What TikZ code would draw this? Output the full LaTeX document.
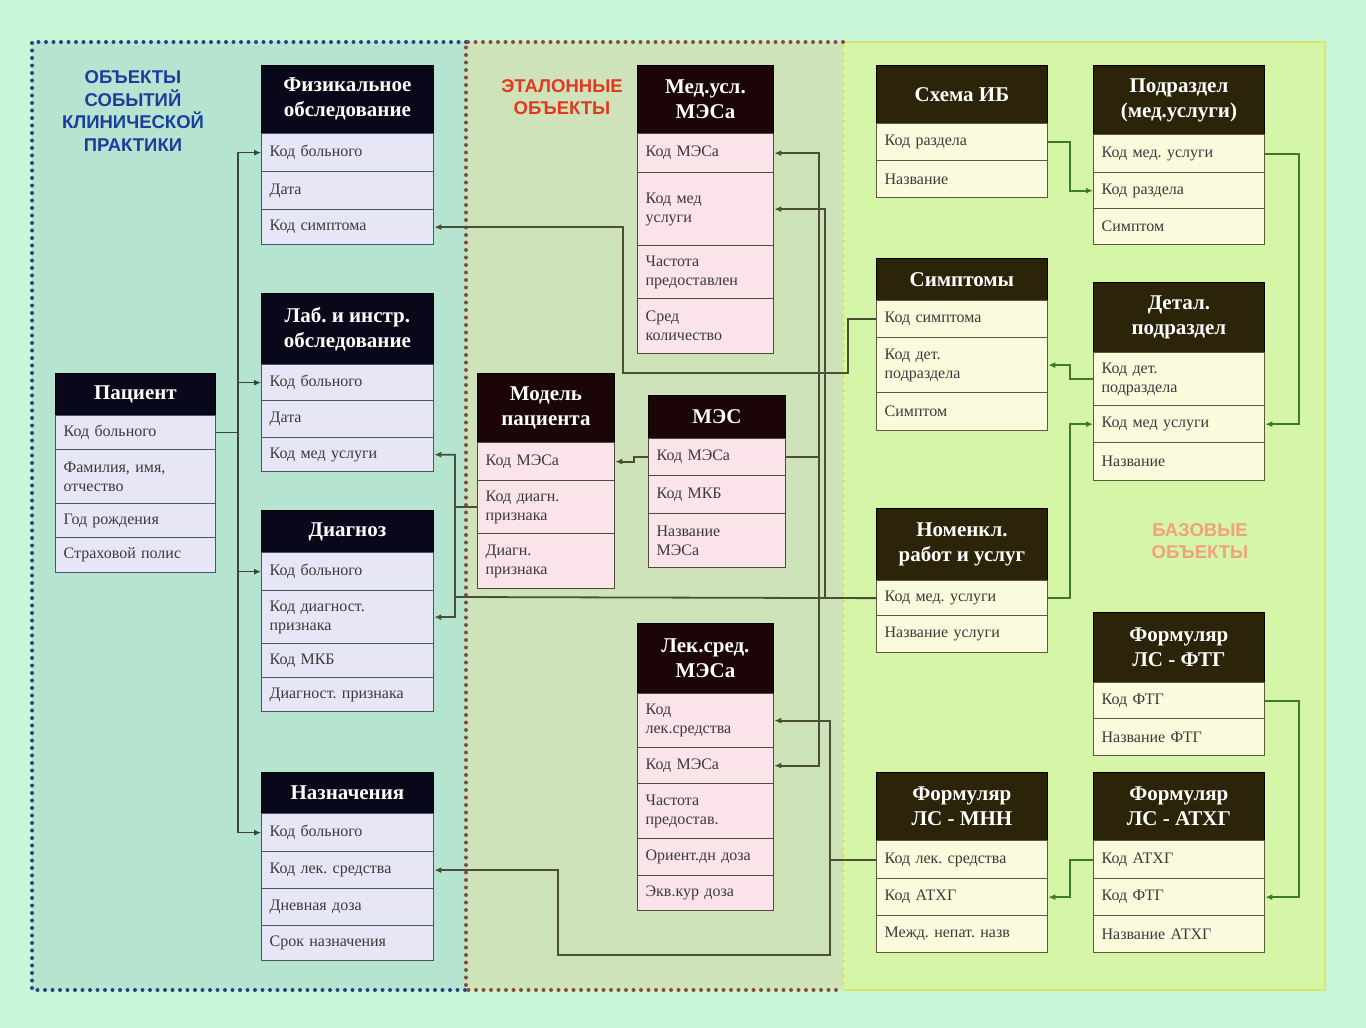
\documentclass[tikz,border=0pt]{standalone}
\usepackage{fontspec}
\setmainfont{Liberation Serif}
\newfontfamily\lblsans{Liberation Sans}
\usetikzlibrary{arrows.meta}
\definecolor{bgc}{HTML}{C8F6D8}
\definecolor{regL}{HTML}{B5E4D1}
\definecolor{regM}{HTML}{CFE3BA}
\definecolor{regR}{HTML}{D4F6A6}
\definecolor{brdL}{HTML}{23467E}
\definecolor{brdM}{HTML}{8C4A3C}
\definecolor{brdR}{HTML}{E6DC3A}
\definecolor{hdLc}{HTML}{08081A}
\definecolor{hdMc}{HTML}{1C0507}
\definecolor{hdRc}{HTML}{2B2408}
\definecolor{rowLc}{HTML}{E6E6F7}
\definecolor{rowMc}{HTML}{FAE3E9}
\definecolor{rowRc}{HTML}{FAFADC}
\definecolor{rowLb}{HTML}{4F5366}
\definecolor{rowMb}{HTML}{4E4A3E}
\definecolor{rowRb}{HTML}{5A5A3E}
\definecolor{rowtxt}{HTML}{3A3A3A}
\definecolor{connL}{HTML}{3A463A}
\definecolor{connM}{HTML}{4C4E38}
\definecolor{connR}{HTML}{3F7A2C}
\definecolor{lblBlue}{HTML}{1E3C9C}
\definecolor{lblRed}{HTML}{E2381E}
\definecolor{lblSal}{HTML}{F2A07E}
\begin{document}
\frenchspacing
\begin{tikzpicture}[x=1pt,y=-1pt,
  dotbase/.style={line width=4pt, line cap=round, dash pattern=on 0pt off 7.5pt},
  dotB/.style={dotbase, draw=brdL},
  dotM/.style={dotbase, draw=brdM},
  dotR/.style={dotbase, draw=brdR, line width=3pt},
  hdbase/.style={anchor=north west, inner sep=0pt, text=white, align=center,
     font=\bfseries\fontsize{21}{25}\selectfont, draw=black, line width=0.8pt},
  hdL/.style={hdbase, fill=hdLc},
  hdM/.style={hdbase, fill=hdMc},
  hdR/.style={hdbase, fill=hdRc},
  rowbase/.style={anchor=north west, inner xsep=8pt, inner ysep=0pt, align=left,
     text=rowtxt, font=\fontsize{16}{19}\selectfont, line width=1.3pt},
  rowL/.style={rowbase, fill=rowLc, draw=rowLb},
  rowM/.style={rowbase, fill=rowMc, draw=rowMb},
  rowR/.style={rowbase, fill=rowRc, draw=rowRb},
  arrtip/.style={-{Latex[length=7pt,width=6pt]}},
  arrL/.style={draw=connL, line width=1.2pt, arrtip},
  arrM/.style={draw=connM, line width=1.8pt, arrtip},
  arrR/.style={draw=connR, line width=1.8pt, arrtip},
  lbl/.style={align=center, font=\lblsans\bfseries\fontsize{18.5}{22.5}\selectfont}
]
% background and regions
\fill[bgc] (0,0) rectangle (1366,1028);
\useasboundingbox (0,0) rectangle (1366,1028);
\fill[regL] (32,42) rectangle (466,990);
\fill[regM] (466,42) rectangle (843,990);
\fill[regR] (843,42) rectangle (1325,990);
\draw[draw=brdR!60!regR, line width=2pt] (843,42) -- (1325,42) -- (1325,990) -- (843,990);
\draw[dotB] (466,42) -- (32,42) -- (32,990) -- (466,990);
\draw[dotM] (843,42) -- (466,42) -- (466,990) -- (843,990);
\draw[dotR] (843,46) -- (843,986);

% region labels
\node[lbl, text=lblBlue] (lblev) at (133,111) {ОБЪЕКТЫ\\СОБЫТИЙ\\КЛИНИЧЕСКОЙ\\ПРАКТИКИ};
\node[lbl, text=lblRed] (lblet) at (562,97) {ЭТАЛОННЫЕ\\ОБЪЕКТЫ};
\node[lbl, text=lblSal] (lblbz) at (1200,541) {БАЗОВЫЕ\\ОБЪЕКТЫ};

% ---------- tables: left column ----------
\node[hdL, minimum width=172pt, minimum height=68pt] (fizh) at (261,65) {Физикальное\\обследование};
\node[rowL, text width=156pt, minimum height=38pt] (fiz1) at (261,133) {Код больного};
\node[rowL, text width=156pt, minimum height=38pt] (fiz2) at (261,171) {Дата};
\node[rowL, text width=156pt, minimum height=35pt] (fiz3) at (261,209) {Код симптома};

\node[hdL, minimum width=172pt, minimum height=71pt] (labh) at (261,293) {Лаб. и инстр.\\обследование};
\node[rowL, text width=156pt, minimum height=36pt] (lab1) at (261,364) {Код больного};
\node[rowL, text width=156pt, minimum height=37pt] (lab2) at (261,400) {Дата};
\node[rowL, text width=156pt, minimum height=34pt] (lab3) at (261,437) {Код мед услуги};

\node[hdL, minimum width=172pt, minimum height=42pt] (diah) at (261,510) {Диагноз};
\node[rowL, text width=156pt, minimum height=38pt] (dia1) at (261,552) {Код больного};
\node[rowL, text width=156pt, minimum height=53pt] (dia2) at (261,590) {Код диагност.\\признака};
\node[rowL, text width=156pt, minimum height=34pt] (dia3) at (261,643) {Код МКБ};
\node[rowL, text width=156pt, minimum height=34pt] (dia4) at (261,677) {Диагност. признака};

\node[hdL, minimum width=172pt, minimum height=41pt] (nazh) at (261,772) {Назначения};
\node[rowL, text width=156pt, minimum height=38pt] (naz1) at (261,813) {Код больного};
\node[rowL, text width=156pt, minimum height=37pt] (naz2) at (261,851) {Код лек. средства};
\node[rowL, text width=156pt, minimum height=37pt] (naz3) at (261,888) {Дневная доза};
\node[rowL, text width=156pt, minimum height=35pt] (naz4) at (261,925) {Срок назначения};

\node[hdL, minimum width=160pt, minimum height=42pt] (pach) at (55,373) {Пациент};
\node[rowL, text width=144pt, minimum height=34pt] (pac1) at (55,415) {Код больного};
\node[rowL, text width=144pt, minimum height=54pt] (pac2) at (55,449) {Фамилия, имя,\\отчество};
\node[rowL, text width=144pt, minimum height=34pt] (pac3) at (55,503) {Год рождения};
\node[rowL, text width=144pt, minimum height=35pt] (pac4) at (55,537) {Страховой полис};

% ---------- tables: middle column ----------
\node[hdM, minimum width=136pt, minimum height=68pt] (medh) at (637,65) {Мед.усл.\\МЭСа};
\node[rowM, text width=120pt, minimum height=39pt] (med1) at (637,133) {Код МЭСа};
\node[rowM, text width=120pt, minimum height=73pt] (med2) at (637,172) {Код мед\\услуги\\[12pt]};
\node[rowM, text width=120pt, minimum height=53pt] (med3) at (637,245) {Частота\\предоставлен};
\node[rowM, text width=120pt, minimum height=55pt] (med4) at (637,298) {Сред\\количество};

\node[hdM, minimum width=137pt, minimum height=69pt] (modh) at (477,373) {Модель\\пациента};
\node[rowM, text width=121pt, minimum height=38pt] (mod1) at (477,442) {Код МЭСа};
\node[rowM, text width=121pt, minimum height=53pt] (mod2) at (477,480) {Код диагн.\\признака};
\node[rowM, text width=121pt, minimum height=55pt] (mod3) at (477,533) {Диагн.\\признака};

\node[hdM, minimum width=137pt, minimum height=43pt] (mesh) at (648,395) {МЭС};
\node[rowM, text width=121pt, minimum height=37pt] (mes1) at (648,438) {Код МЭСа};
\node[rowM, text width=121pt, minimum height=38pt] (mes2) at (648,475) {Код МКБ};
\node[rowM, text width=121pt, minimum height=54pt] (mes3) at (648,513) {Название\\МЭСа};

\node[hdM, minimum width=136pt, minimum height=70pt] (lekh) at (637,623) {Лек.сред.\\МЭСа};
\node[rowM, text width=120pt, minimum height=54pt] (lek1) at (637,693) {Код\\лек.средства};
\node[rowM, text width=120pt, minimum height=36pt] (lek2) at (637,747) {Код МЭСа};
\node[rowM, text width=120pt, minimum height=55pt] (lek3) at (637,783) {Частота\\предостав.};
\node[rowM, text width=120pt, minimum height=37pt] (lek4) at (637,838) {Ориент.дн доза};
\node[rowM, text width=120pt, minimum height=35pt] (lek5) at (637,875) {Экв.кур доза};

% ---------- tables: right column ----------
\node[hdR, minimum width=171pt, minimum height=58pt] (schh) at (876,65) {Схема ИБ};
\node[rowR, text width=155pt, minimum height=37pt] (sch1) at (876,123) {Код раздела};
\node[rowR, text width=155pt, minimum height=37pt] (sch2) at (876,160) {Название};

\node[hdR, minimum width=171pt, minimum height=69pt] (podh) at (1093,65) {Подраздел\\(мед.услуги)};
\node[rowR, text width=155pt, minimum height=38pt] (pod1) at (1093,134) {Код мед. услуги};
\node[rowR, text width=155pt, minimum height=36pt] (pod2) at (1093,172) {Код раздела};
\node[rowR, text width=155pt, minimum height=36pt] (pod3) at (1093,208) {Симптом};

\node[hdR, minimum width=171pt, minimum height=42pt] (symh) at (876,258) {Симптомы};
\node[rowR, text width=155pt, minimum height=37pt] (sym1) at (876,300) {Код симптома};
\node[rowR, text width=155pt, minimum height=55pt] (sym2) at (876,337) {Код дет.\\подраздела};
\node[rowR, text width=155pt, minimum height=38pt] (sym3) at (876,392) {Симптом};

\node[hdR, minimum width=171pt, minimum height=70pt] (deth) at (1093,282) {Детал.\\подраздел};
\node[rowR, text width=155pt, minimum height=53pt] (det1) at (1093,352) {Код дет.\\подраздела};
\node[rowR, text width=155pt, minimum height=37pt] (det2) at (1093,405) {Код мед услуги};
\node[rowR, text width=155pt, minimum height=38pt] (det3) at (1093,442) {Название};

\node[hdR, minimum width=171pt, minimum height=72pt] (nomh) at (876,508) {Номенкл.\\работ и услуг};
\node[rowR, text width=155pt, minimum height=35pt] (nom1) at (876,580) {Код мед. услуги};
\node[rowR, text width=155pt, minimum height=37pt] (nom2) at (876,615) {Название услуги};

\node[hdR, minimum width=171pt, minimum height=70pt] (ftgh) at (1093,612) {Формуляр\\ЛС - ФТГ};
\node[rowR, text width=155pt, minimum height=36pt] (ftg1) at (1093,682) {Код ФТГ};
\node[rowR, text width=155pt, minimum height=37pt] (ftg2) at (1093,718) {Название ФТГ};

\node[hdR, minimum width=171pt, minimum height=68pt] (mnnh) at (876,772) {Формуляр\\ЛС - МНН};
\node[rowR, text width=155pt, minimum height=38pt] (mnn1) at (876,840) {Код лек. средства};
\node[rowR, text width=155pt, minimum height=37pt] (mnn2) at (876,878) {Код АТХГ};
\node[rowR, text width=155pt, minimum height=37pt] (mnn3) at (876,915) {Межд. непат. назв};

\node[hdR, minimum width=171pt, minimum height=68pt] (atxh) at (1093,772) {Формуляр\\ЛС - АТХГ};
\node[rowR, text width=155pt, minimum height=38pt] (atx1) at (1093,840) {Код АТХГ};
\node[rowR, text width=155pt, minimum height=37pt] (atx2) at (1093,878) {Код ФТГ};
\node[rowR, text width=155pt, minimum height=37pt] (atx3) at (1093,915) {Название АТХГ};

% ---------- routing coordinates ----------
\coordinate (busL) at (238,0);
\coordinate (vA) at (848,373);
\coordinate (vB) at (623,373);
\coordinate (vC) at (455,597);
\coordinate (vD) at (825,300);
\coordinate (vE) at (819,300);
\coordinate (vF) at (819,600);
\coordinate (vG) at (830,790);
\coordinate (vH) at (830,955);
\coordinate (vI) at (558,955);
\coordinate (vJ) at (1070,170);
\coordinate (vK) at (1299,300);
\coordinate (vL) at (1070,370);
\coordinate (vM) at (1070,500);
\coordinate (vN) at (1299,800);
\coordinate (vO) at (1070,880);

% ---------- connectors ----------
\draw[arrL] (pac1.east) -- (pac1.east -| busL) |- (fiz1.west);
\draw[arrL] (pac1.east) -- (pac1.east -| busL) |- (lab1.west);
\draw[arrL] (pac1.east) -- (pac1.east -| busL) |- (dia1.west);
\draw[arrL] (pac1.east) -- (pac1.east -| busL) |- (naz1.west);

\draw[arrM] (sym1.west) -| (vA) -- (vB) |- (fiz3.east);
\draw[arrM] (nom1.west) -- (vC) |- (lab3.east);
\draw[arrM] (mod2.west) -- (mod2.west -| vC) |- (dia2.east);
\draw[arrM] (nom1.west) -| (vD) |- (med2.east);
\draw[arrM] (mes1.east) -| (vE) |- (med1.east);
\draw[arrM] (mes1.east) -| (vF) |- (lek2.east);
\draw[arrM] (mes1.west) -- ++(-14,0) |- (mod1.east);
\draw[arrM] (mnn1.west) -| (vG) |- (lek1.east);
\draw[arrM] (mnn1.west) -| (vH) -- (vI) |- (naz2.east);

\draw[arrR] (sch1.east) -| (vJ) |- (pod2.west);
\draw[arrR] (pod1.east) -| (vK) |- (det2.east);
\draw[arrR] (det1.west) -| (vL) |- (sym2.east);
\draw[arrR] (nom1.east) -| (vM) |- (det2.west);
\draw[arrR] (ftg1.east) -| (vN) |- (atx2.east);
\draw[arrR] (atx1.west) -| (vO) |- (mnn2.east);
\end{tikzpicture}
\end{document}
